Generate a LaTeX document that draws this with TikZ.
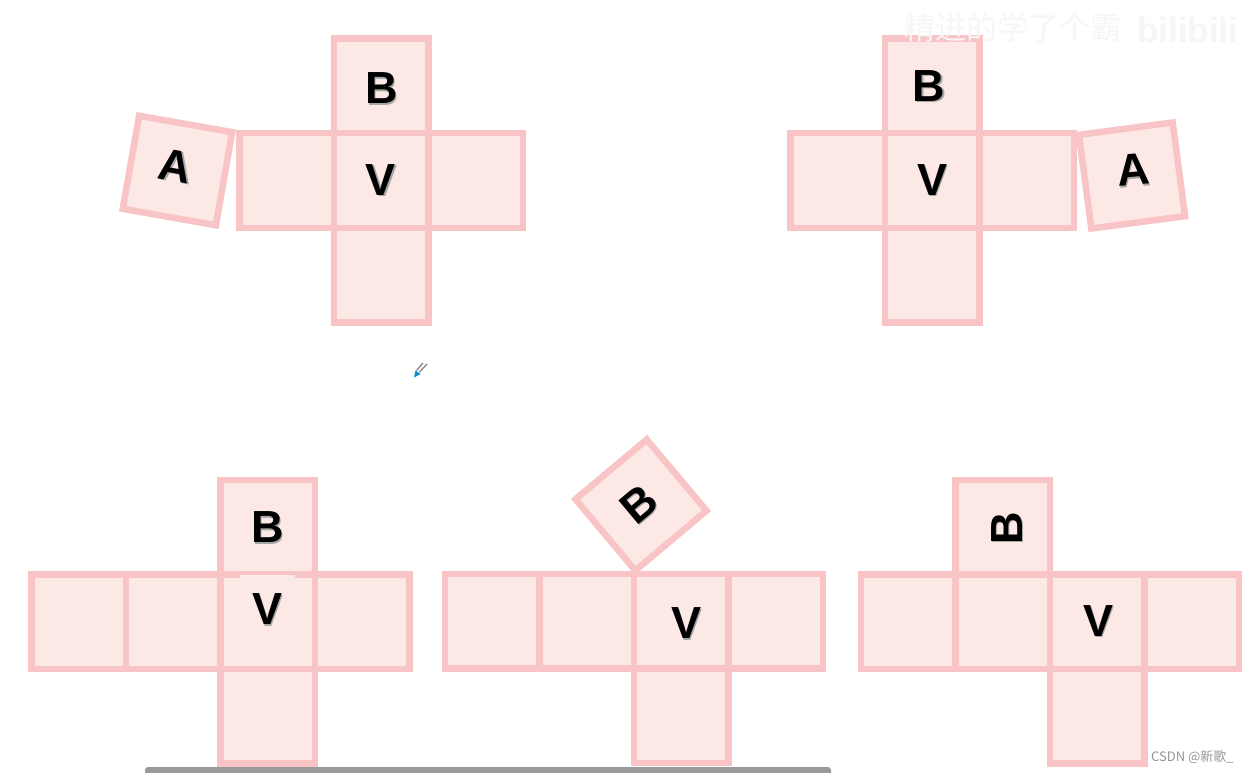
\documentclass[tikz,border=0pt]{standalone}
\usepackage{fontspec}
\setmainfont{Liberation Sans}
\newfontfamily\cjk{Noto Sans CJK SC}
\definecolor{cellborder}{RGB}{248,196,198}
\definecolor{cellfill}{RGB}{252,232,228}
\definecolor{marktext}{RGB}{150,150,150}
\definecolor{barcol}{RGB}{153,153,153}
\newcommand\facelabel[5]{%
  \node[lab, text=black!35, rotate=#4] at (#2+1.3,#3+1.3) {#5};
  \node[lab, rotate=#4] (#1) at (#2,#3) {#5};}
\begin{document}
\begin{tikzpicture}[x=1pt,y=-1pt,
  cell/.style={draw=cellborder, fill=cellfill, line width=6.5pt, minimum size=94.5pt, inner sep=0pt, outer sep=0pt, line join=miter},
  lab/.style={font=\bfseries\fontsize{45}{45}\selectfont, text=black, inner sep=0pt}]
\useasboundingbox (0,0) rectangle (1248,773);
\fill[white] (0,0) rectangle (1248,773);

% ---- top-left net
\node[cell] (tlB) at (381,86) {};
\node[cell] (tlL) at (286.5,180.5) {};
\node[cell] (tlR) at (475.5,180.5) {};
\node[cell] (tlD) at (381,275) {};
\node[cell] (tlV) at (381,180.5) {};
\node[cell, rotate=-10] (tlA) at (177.5,170.5) {};
\facelabel{tlBt}{381.3}{88.3}{0}{B}
\facelabel{tlVt}{381}{179.7}{0}{V}
\facelabel{tlAt}{175.5}{166}{-10}{A}

% ---- top-right net
\node[cell] (trB) at (932,86) {};
\node[cell] (trL) at (837.5,180.5) {};
\node[cell] (trR) at (1026.5,180.5) {};
\node[cell] (trD) at (932,275) {};
\node[cell] (trV) at (932,180.5) {};
\node[cell, rotate=7.5] (trA) at (1132,175.5) {};
\facelabel{trBt}{929}{86}{0}{B}
\facelabel{trVt}{932.3}{180}{0}{V}
\facelabel{trAt}{1133.3}{170}{5}{A}

% ---- bottom-left net
\node[cell] (blB) at (267.5,527) {};
\node[cell] (bl1) at (78.5,621.5) {};
\node[cell] (bl2) at (173,621.5) {};
\node[cell] (bl4) at (362,621.5) {};
\node[cell] (blD) at (267.5,716) {};
\node[cell] (blV) at (267.5,621.5) {};
\fill[cellfill] (240,575) rectangle (295,579);
\facelabel{blBt}{267.5}{527.5}{0}{B}
\facelabel{blVt}{267.5}{609.5}{0}{V}

% ---- bottom-middle net
\node[cell] (bm1) at (492.25,621.3) {};
\node[cell] (bm2) at (586.75,621.3) {};
\node[cell] (bm4) at (775.75,621.3) {};
\node[cell] (bmD) at (681.25,715.8) {};
\node[cell] (bmV) at (681.25,621.3) {};
\node[cell, minimum size=93pt, rotate=40] (bmB) at (641,505) {};
\facelabel{bmBt}{639}{504}{40}{B}
\facelabel{bmVt}{686.7}{623.3}{0}{V}

% ---- bottom-right net
\node[cell] (brB) at (1002.75,527) {};
\node[cell] (br1) at (908.25,621.5) {};
\node[cell] (br2) at (1002.75,621.5) {};
\node[cell] (br4) at (1191.75,621.5) {};
\node[cell] (brD) at (1097.25,716) {};
\node[cell] (brV) at (1097.25,621.5) {};
\facelabel{brBt}{1006.7}{528.3}{90}{B}
\facelabel{brVt}{1098}{620.8}{0}{V}

% ---- pen cursor
\draw[gray, line width=1.2pt] (427,364) -- (419.5,372);
\draw[gray, line width=1.2pt] (423,363) -- (416.5,370.5);
\fill[cyan!70!blue] (414,377.5) -- (415.5,370.5) -- (420.5,374) -- cycle;

% ---- watermarks and bar
\node[font=\cjk\fontsize{31}{31}\selectfont, text=gray!7, anchor=west, inner sep=0pt] (wm) at (904,28) {精进的学了个霸};
\node[font=\bfseries\fontsize{35}{35}\selectfont, text=gray!7, anchor=west, inner sep=0pt] (bili) at (1137,30) {bilibili};
\node[font=\cjk\fontsize{13}{13}\selectfont, text=marktext, anchor=west, inner sep=0pt] (csdn) at (1151,757) {CSDN @新歌\_};
\fill[barcol, rounded corners=3pt] (145,767) rectangle (831,776);
\end{tikzpicture}
\end{document}
